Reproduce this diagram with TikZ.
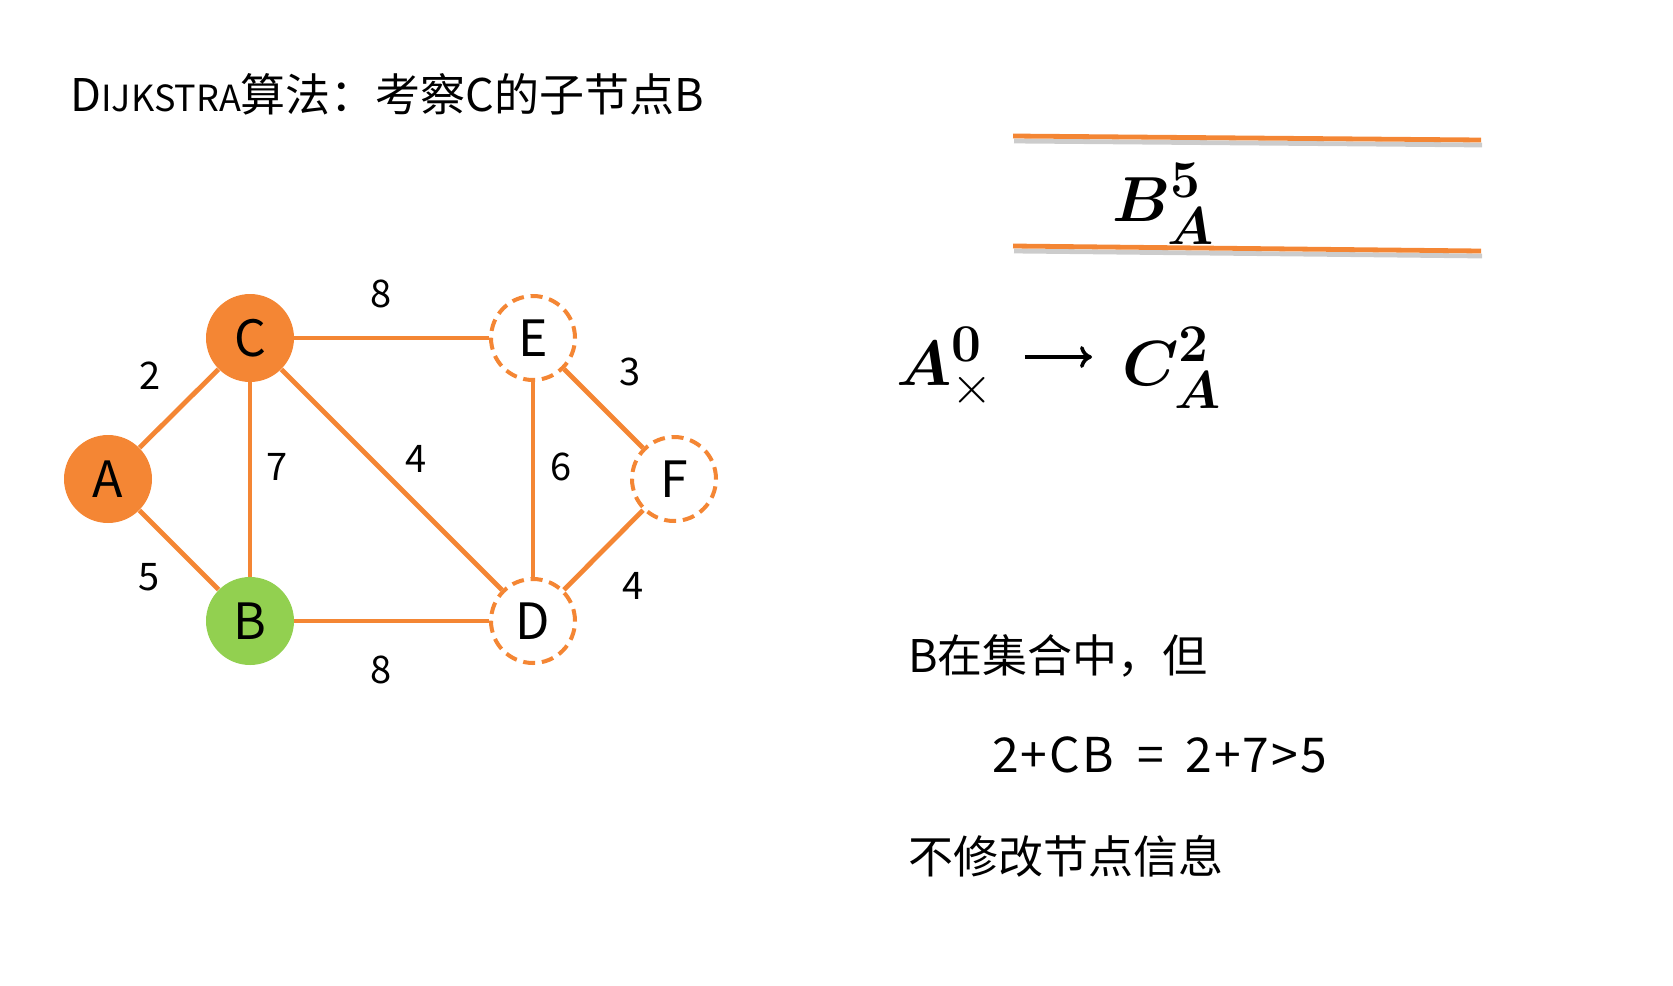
\documentclass[tikz,border=0pt]{standalone}
\usepackage{amsmath,amssymb,bm}
\usepackage{fontspec}
\setmainfont{Noto Sans CJK SC}
\usetikzlibrary{positioning,calc,arrows.meta}
\definecolor{dkorange}{RGB}{244,134,52}
\definecolor{dkgreen}{RGB}{146,208,80}
\newcommand{\bigmath}[1]{\scalebox{1.28}{\Huge$#1$}}

\begin{document}
\begin{tikzpicture}[x=0.5pt, y=-0.5pt,
    vis/.style={circle, fill=dkorange, inner sep=0pt, minimum size=44pt,
      font=\fontsize{25}{25}\selectfont},
    cur/.style={vis, fill=dkgreen},
    unvis/.style={circle, draw=dkorange, fill=white, line width=2pt,
      dash pattern=on 6pt off 3.4pt, inner sep=0pt, minimum size=42pt,
      font=\fontsize{25}{25}\selectfont},
    wedge/.style={draw=dkorange, line width=2.4pt},
    wt/.style={font=\fontsize{19}{19}\selectfont},
    txt/.style={anchor=base west, inner sep=0pt, font=\fontsize{22.5}{22.5}\selectfont}]
  \useasboundingbox (0,0) rectangle (1673,985);
  % ---- title
  \node[anchor=base west, inner sep=0pt, font=\fontsize{22.5}{22.5}\selectfont]
    (title) at (70,111) {D{\fontsize{18}{18}\selectfont IJKSTRA}算法：考察C的子节点B};
  % ---- graph
  \begin{scope}
    \node[vis]   (A) at (108,479) {A};
    \node[vis]   (C) at (250,338) {C};
    \node[cur]   (B) at (250,621) {B};
    \node[unvis] (E) at (533,338) {E};
    \node[unvis] (D) at (533,621) {D};
    \node[unvis] (F) at (674,479) {F};
    \foreach \u/\v in {A/C,A/B,C/B,C/E,C/D,B/D,E/D,E/F,D/F}
      { \draw[wedge] (\u) -- (\v); }
    \node[wt] (wce) at (381,294) {8};
    \node[wt] (wac) at (150,376) {2};
    \node[wt] (wcb) at (277,467) {7};
    \node[wt] (wcd) at (416,459) {4};
    \node[wt] (wed) at (561,467) {6};
    \node[wt] (wef) at (630,372) {3};
    \node[wt] (wab) at (149,577) {5};
    \node[wt] (wdf) at (633,586) {4};
    \node[wt] (wbd) at (381,670) {8};
  \end{scope}
  % ---- set box
  \coordinate (t1) at (1013,136); \coordinate (t2) at (1481,140);
  \coordinate (b1) at (1013,246); \coordinate (b2) at (1481,251);
  \draw[black!20, line width=2.4pt] ($(t1)+(1,5)$) -- ($(t2)+(1,5)$);
  \draw[black!20, line width=2.4pt] ($(b1)+(1,5)$) -- ($(b2)+(1,5)$);
  \draw[dkorange, line width=2.4pt] (t1) -- (t2);
  \draw[dkorange, line width=2.4pt] (b1) -- (b2);
  \node[anchor=base west, inner sep=0pt]
    (setb) at (1112,221) {\bigmath{\bm{B}^{\bm{5}}_{\bm{A}}}};
  % ---- path so far
  \node[anchor=base west, inner sep=0pt]
    (srcA) at (896,385) {\bigmath{\bm{A}^{\bm{0}}_{\times}}};
  \node[anchor=base west, inner sep=0pt]
    (dstC) at (1122,385) {\bigmath{\bm{C}^{\bm{2}}_{\bm{A}}}};
  \draw[-{To[length=6pt,width=11pt]}, line width=1.8pt]
    ($(srcA.base east)+(30,-28)$) -- ($(dstC.base west)+(-30,-28)$);
  % ---- remarks
  \node[txt] (r1) at (908,672) {B在集合中，但};
  \node[txt, font=\fontsize{24}{24}\selectfont\addfontfeature{LetterSpace=4}]
    (r2) at (992,772) {2+CB\hspace{0.5em}=\hspace{0.45em}2+7>5};
  \node[txt] (r3) at (908,873) {不修改节点信息};
\end{tikzpicture}
\end{document}
